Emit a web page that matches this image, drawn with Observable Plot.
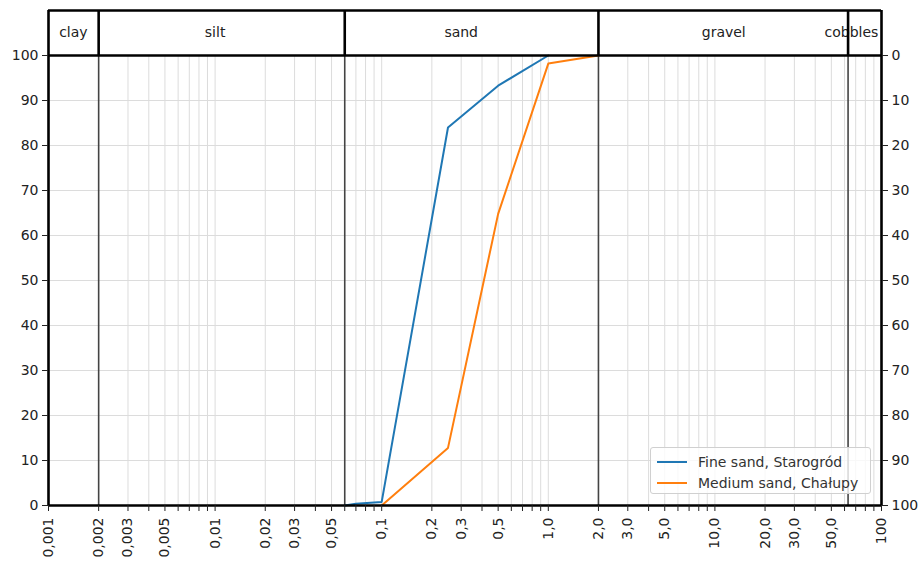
<!DOCTYPE html>
<html>
<head>
<meta charset="utf-8">
<script src="https://cdn.jsdelivr.net/npm/d3@7"></script>
<script src="https://cdn.jsdelivr.net/npm/@observablehq/plot@0.6"></script>
<style>
  html, body { margin: 0; padding: 0; background: #fff; }
  #wrap { position: relative; width: 921px; height: 561px; font-family: "DejaVu Sans", sans-serif; }
  #legend { position: absolute; left: 650px; top: 447px; width: 221px; height: 47px;
    border: 1px solid #d0d0d0; border-radius: 3px; background: rgba(255,255,255,0.8);
    font-size: 14px; color: #333; box-sizing: border-box; }
  #legend .row { position: absolute; left: 0; height: 20px; line-height: 20px; white-space: nowrap; }
  #legend svg { position: absolute; left: 6px; top: 0; }
  #legend span { position: absolute; left: 47px; top: 0; }
</style>
</head>
<body>
<div id="wrap"></div>
<script>
// ---- data ----
const fineSize = [0.06, 0.07, 0.1, 0.25, 0.5, 1.0];
const finePass = [0, 0.4, 0.8, 84, 93.3, 100];
const mediumSize = [0.1, 0.25, 0.5, 1.0, 2.0];
const mediumPass = [0, 12.8, 64.8, 98.2, 100];
const seriesNames = ["Fine sand, Starogród", "Medium sand, Chałupy"];
const seriesColors = ["#1f77b4", "#ff7f0e"];

const zoneNames = ["clay", "silt", "sand", "gravel", "cobbles"];
const zoneLabelAt = [0.00141, 0.0100, 0.30, 11.3, 66];
const zoneBounds = [0.002, 0.06, 2, 63];

const xTickValues = [0.001, 0.002, 0.003, 0.005, 0.01, 0.02, 0.03, 0.05, 0.1, 0.2, 0.3, 0.5, 1, 2, 3, 5, 10, 20, 30, 50, 100];
const xTickLabels = ["0,001", "0,002", "0,003", "0,005", "0,01", "0,02", "0,03", "0,05", "0,1", "0,2", "0,3", "0,5", "1,0", "2,0", "3,0", "5,0", "10,0", "20,0", "30,0", "50,0", "100"];
const yTicks = [0, 10, 20, 30, 40, 50, 60, 70, 80, 90, 100];

// ---- derived tables ----
const fine = fineSize.map((s, i) => ({size: s, pass: finePass[i], series: seriesNames[0]}));
const medium = mediumSize.map((s, i) => ({size: s, pass: mediumPass[i], series: seriesNames[1]}));
const zones = zoneNames.map((n, i) => ({name: n, at: zoneLabelAt[i]}));
const xLabels = xTickValues.map((v, i) => ({v, label: xTickLabels[i]}));

// all 1..9 x 10^k positions for minor ticks / grid
const minor = [];
for (let e = -3; e <= 1; e++) for (let m = 1; m <= 9; m++) minor.push(+(m * Math.pow(10, e)).toPrecision(3));
minor.push(100);
const gridX = minor.filter(v => v > 0.001 && v < 100 && !zoneBounds.includes(v));

const xMin = 0.001, xMax = 100, yTop = 110;

const chart = Plot.plot({
  width: 921, height: 561,
  marginLeft: 48, marginRight: 40, marginTop: 10, marginBottom: 56,
  x: {type: "log", domain: [xMin, xMax]},
  y: {domain: [0, yTop]},
  style: {fontFamily: "DejaVu Sans, sans-serif", fontSize: "14px", background: "white", color: "#222"},
  marks: [
    Plot.ruleX(gridX, {y1: 0, y2: 100, stroke: "#dcdcdc", strokeWidth: 1}),
    Plot.ruleY(yTicks.filter(d => d > 0 && d < 100), {x1: xMin, x2: xMax, stroke: "#dcdcdc", strokeWidth: 1}),
    Plot.ruleX(zoneBounds, {y1: 0, y2: 100, stroke: "#444", strokeWidth: 1.6}),
    Plot.line(fine, {x: "size", y: "pass", stroke: seriesColors[0], strokeWidth: 2}),
    Plot.line(medium, {x: "size", y: "pass", stroke: seriesColors[1], strokeWidth: 2}),
    Plot.text(zones, {x: "at", y: 105, text: "name", fill: "#222", fontSize: 14}),
    Plot.ruleX(zoneBounds, {y1: 100, y2: yTop, stroke: "#000", strokeWidth: 2.6}),
    Plot.ruleY([0, 100, yTop], {x1: xMin, x2: xMax, stroke: "#000", strokeWidth: 2.6}),
    Plot.ruleX([xMin, xMax], {y1: 0, y2: yTop, stroke: "#000", strokeWidth: 2.6}),
    Plot.axisX({ticks: minor, tickFormat: () => "", tickSize: 6, label: null}),
    Plot.text(xLabels, {x: "v", text: "label", frameAnchor: "bottom", dy: 12, rotate: -90, textAnchor: "end", lineAnchor: "middle", fill: "#222", fontSize: 14}),
    Plot.axisY({anchor: "left", ticks: yTicks, tickSize: 6, tickPadding: 4, label: null, fontSize: 14}),
    Plot.axisY({anchor: "right", ticks: yTicks, tickFormat: d => String(100 - d), tickSize: 6, tickPadding: 4, label: null, fontSize: 14})
  ]
});

const wrap = document.getElementById("wrap");
wrap.appendChild(chart);

// legend
const legend = document.createElement("div");
legend.id = "legend";
seriesNames.forEach((name, i) => {
  const row = document.createElement("div");
  row.className = "row";
  row.style.top = (4 + i * 21) + "px";
  row.innerHTML = `<svg width="32" height="20"><line x1="0" x2="30" y1="10" y2="10" stroke="${seriesColors[i]}" stroke-width="2"/></svg><span>${name}</span>`;
  legend.appendChild(row);
});
wrap.appendChild(legend);
</script>
</body>
</html>
